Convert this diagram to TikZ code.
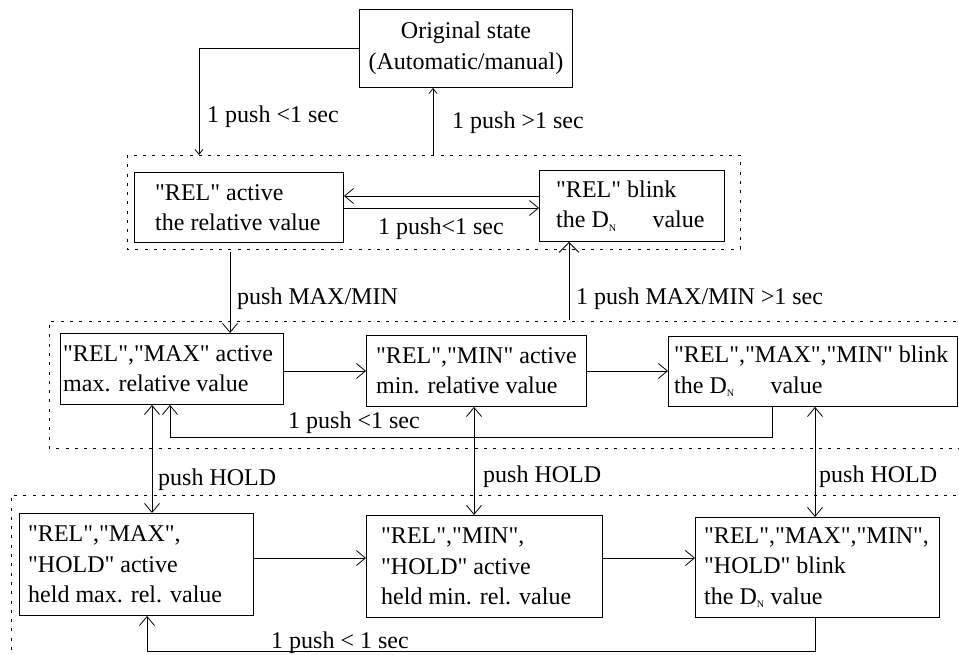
\documentclass[tikz,border=0pt]{standalone}
\usepackage{fontspec}
\setmainfont{Liberation Serif}[Ligatures=TeXOff]
\usetikzlibrary{arrows.meta}
\begin{document}
\begin{tikzpicture}[x=1pt,y=-1pt,
  every node/.style={font=\fontsize{24}{30.5}\selectfont},
  box/.style={draw, line width=0.9pt, rectangle, inner sep=0pt, anchor=north west},
  txt/.style={inner sep=0pt, align=left, anchor=west},
  lbl/.style={inner sep=0pt, anchor=base west},
  grp/.style={line width=0.8pt, dash pattern=on 3pt off 6.3pt},
  conn/.style={line width=0.8pt},
  arr/.style={conn, -{Straight Barb[length=9pt,width=15pt,line width=0.8pt]}},
  arrsmall/.style={conn, -{Straight Barb[length=5pt,width=8pt,line width=0.8pt]}},
  arrbig/.style={conn, -{Straight Barb[length=10pt,width=20pt,line width=0.8pt]}},
  darr/.style={conn, {Straight Barb[length=9pt,width=15pt,line width=0.8pt]}-{Straight Barb[length=9pt,width=15pt,line width=0.8pt]}}
]
\useasboundingbox (0,0) rectangle (959,655);

% group frames
\draw[grp] (127,155) rectangle (740,249);
\draw[grp] (975,321) -- (49,321) -- (49,448) -- (975,448);
\draw[grp] (975,495) -- (11,495) -- (11,665);

% boxes
\node[box, minimum width=213pt, minimum height=78pt] (orig) at (359,9) {};
\node[inner sep=0pt, align=center] (origt) at (orig.center) {Original state\\(Automatic/manual)};

\node[box, minimum width=209pt, minimum height=70pt] (relact) at (134,172) {};
\node[txt] (relactt) at ([xshift=21pt]relact.west) {"REL" active\\the relative value};

\node[box, minimum width=185pt, minimum height=71pt] (relblink) at (539,170) {};
\node[txt] (relblinkt) at ([xshift=17pt]relblink.west) {"REL" blink\\the D\textsubscript{\fontsize{10}{10}\selectfont N}\hspace{36pt}value};

\node[box, minimum width=223pt, minimum height=71pt] (maxact) at (60,333) {};
\node[txt] (maxactt) at ([xshift=3pt]maxact.west) {"REL","MAX" active\\max. relative value};

\node[box, minimum width=220pt, minimum height=71pt] (minact) at (366,335) {};
\node[txt] (minactt) at ([xshift=10pt]minact.west) {"REL","MIN" active\\min. relative value};

\node[box, minimum width=289pt, minimum height=70pt] (mmblink) at (668,336) {};
\node[txt] (mmblinkt) at ([xshift=6pt]mmblink.west) {"REL","MAX","MIN" blink\\the D\textsubscript{\fontsize{10}{10}\selectfont N}\hspace{36pt}value};

\node[box, minimum width=234pt, minimum height=102pt] (holdmax) at (19,513) {};
\node[txt] (holdmaxt) at ([xshift=9pt]holdmax.west) {"REL","MAX",\\"HOLD" active\\held max. rel. value};

\node[box, minimum width=236pt, minimum height=102pt] (holdmin) at (366,515) {};
\node[txt] (holdmint) at ([xshift=15pt]holdmin.west) {"REL","MIN",\\"HOLD" active\\held min. rel. value};

\node[box, minimum width=244pt, minimum height=100pt] (holdblink) at (695,517) {};
\node[txt] (holdblinkt) at ([xshift=9pt]holdblink.west) {"REL","MAX","MIN",\\"HOLD" blink\\the D\textsubscript{\fontsize{10}{10}\selectfont N} value};

% coordinates
\coordinate (c1) at (199,155);
\coordinate (c2) at (433,155);
\coordinate (c3) at (230,252);
\coordinate (c4) at (569,320);
\coordinate (r1) at (772,437);
\coordinate (r2) at (170,437);
\coordinate (r3) at (815,651);
\coordinate (r4) at (147,651);
\coordinate (ya) at (0,196);
\coordinate (yb) at (0,208);
\coordinate (yc) at (0,371);
\coordinate (yd) at (0,558);

% connectors
\draw[arrsmall] (orig.west) -| (c1);
\draw[arrsmall] (c2) -- (c2 |- orig.south);
\draw[arr] (relblink.west |- ya) -- (relact.east |- ya);
\draw[arr] (relact.east |- yb) -- (relblink.west |- yb);
\draw[arr] (c3) -- (c3 |- maxact.north);
\draw[arrbig] (c4) -- (c4 |- relblink.south);
\draw[arr] (maxact.east |- yc) -- (minact.west |- yc);
\draw[arr] (minact.east |- yc) -- (mmblink.west |- yc);
\draw[arr] (r1 |- mmblink.south) -- (r1) -- (r2) -- (r2 |- maxact.south);
\draw[darr] (maxact.south -| 152,0) -- (holdmax.north -| 152,0);
\draw[darr] (minact.south -| 474,0) -- (holdmin.north -| 474,0);
\draw[darr] (mmblink.south -| 815,0) -- (holdblink.north -| 815,0);
\draw[arr] (holdmax.east |- yd) -- (holdmin.west |- yd);
\draw[arr] (holdmin.east |- yd) -- (holdblink.west |- yd);
\draw[arr] (r3 |- holdblink.south) -- (r3) -- (r4) -- (r4 |- holdmax.south);

% labels
\node[lbl] (l1) at (207,123) {1 push <1 sec};
\node[lbl] (l2) at (452,129) {1 push >1 sec};
\node[lbl] (l3) at (378,235) {1 push<1 sec};
\node[lbl] (l4) at (237,305) {push MAX/MIN};
\node[lbl] (l5) at (576,305) {1 push MAX/MIN >1 sec};
\node[lbl] (l6) at (288,428) {1 push <1 sec};
\node[lbl] (l7) at (158,485) {push HOLD};
\node[lbl] (l8) at (483,482) {push HOLD};
\node[lbl] (l9) at (819,482) {push HOLD};
\node[lbl] (l10) at (271,648) {1 push < 1 sec};
\end{tikzpicture}
\end{document}
